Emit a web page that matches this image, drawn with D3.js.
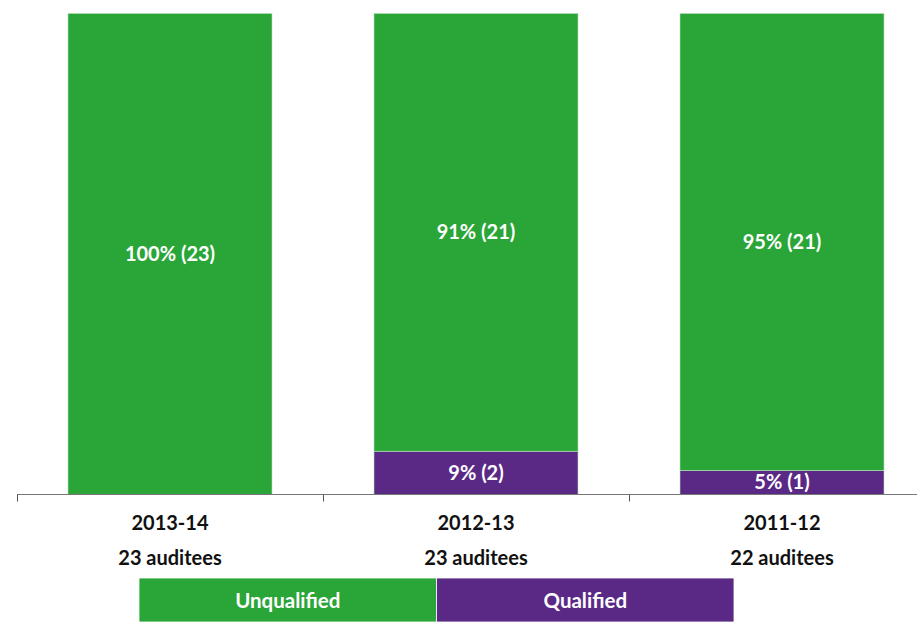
<!DOCTYPE html>
<html>
<head>
<meta charset="utf-8">
<script src="https://cdn.jsdelivr.net/npm/d3@7"></script>
<style>
  html, body { margin: 0; padding: 0; background: #fff; }
  #svg-container { width: 917px; height: 622px; }
  text { font-family: Lato, "Open Sans", sans-serif; font-weight: bold; }
</style>
</head>
<body>
<div id="svg-container"></div>
<script>
////////////////////////////////////////////////////////////////////
////////////////////////////  Data  ////////////////////////////////
const years = ["2013-14", "2012-13", "2011-12"];
const auditees = ["23 auditees", "23 auditees", "22 auditees"];
const unqualifiedPct = [100, 91, 95];
const unqualifiedCount = [23, 21, 21];
const qualifiedPct = [0, 9, 5];
const qualifiedCount = [0, 2, 1];
const seriesNames = ["Unqualified", "Qualified"];

////////////////////////////////////////////////////////////////////
////////////////////////////  Init  ////////////////////////////////
const width = 917;
const height = 622;
const margin = { top: 13.5, bottom: 127.5, left: 17 };

const svg = d3.select("#svg-container").append("svg")
  .attr("width", width)
  .attr("height", height);

const colorScale = d3.scaleOrdinal().domain(seriesNames).range(["#2aa538", "#5a2986"]);

const xScale = d3.scaleBand()
  .domain(years)
  .range([margin.left, margin.left + 918])
  .paddingInner(1 / 3)
  .paddingOuter(1 / 6);

const yScale = d3.scaleLinear()
  .domain([0, 100])
  .range([height - margin.bottom, margin.top]);

const rows = years.map((y, i) => ({
  year: y,
  aud: auditees[i],
  segs: [
    { key: "Unqualified", pct: unqualifiedPct[i], n: unqualifiedCount[i] },
    { key: "Qualified", pct: qualifiedPct[i], n: qualifiedCount[i] }
  ]
}));

const stack = d3.stack().keys(["Qualified", "Unqualified"])
  .value((d, k) => d.segs.find((s) => s.key === k).pct);
const stacked = stack(rows);

// bars
const layers = svg.selectAll(".layer")
  .data(stacked)
  .enter()
  .append("g")
  .attr("class", "layer")
  .attr("fill", (d) => colorScale(d.key));

layers.selectAll("rect")
  .data((d) => d.map((v) => ({ key: d.key, v })))
  .enter()
  .filter((d) => d.v[1] - d.v[0] > 0)
  .append("rect")
  .attr("x", (d) => xScale(d.v.data.year))
  .attr("width", xScale.bandwidth())
  .attr("y", (d) => yScale(d.v[1]))
  .attr("height", (d) => yScale(d.v[0]) - yScale(d.v[1]))
  .attr("stroke", "#b9e0bd")
  .attr("stroke-width", 0.6);

// labels inside bars
layers.selectAll("text")
  .data((d) => d.map((v) => ({ key: d.key, v })))
  .enter()
  .filter((d) => d.v[1] - d.v[0] > 0)
  .append("text")
  .attr("x", (d) => xScale(d.v.data.year) + xScale.bandwidth() / 2)
  .attr("y", (d) => (yScale(d.v[0]) + yScale(d.v[1])) / 2)
  .attr("dy", "0.35em")
  .attr("text-anchor", "middle")
  .attr("fill", "#fff")
  .attr("font-size", 20)
  .text((d) => {
    const s = d.v.data.segs.find((x) => x.key === d.key);
    return `${s.pct}% (${s.n})`;
  });

// axis
const xAxis = d3.axisBottom(xScale).tickSize(0).tickFormat("");
const axisG = svg.append("g")
  .attr("class", "x-axis")
  .attr("transform", `translate(0,${yScale(0)})`)
  .call(xAxis);
axisG.select(".domain").remove();

axisG.append("line")
  .attr("x1", margin.left).attr("x2", width)
  .attr("stroke", "#777").attr("stroke-width", 1);

// ticks at band boundaries
const boundaries = years.map((y) => xScale(y) - (xScale.step() * xScale.paddingInner()) / 2);
axisG.selectAll(".bound")
  .data(boundaries)
  .enter()
  .append("line")
  .attr("x1", (d) => Math.round(d) + 0.5)
  .attr("x2", (d) => Math.round(d) + 0.5)
  .attr("y1", 0)
  .attr("y2", 7)
  .attr("stroke", "#555");

// category labels
const catG = svg.selectAll(".cat")
  .data(rows)
  .enter()
  .append("g")
  .attr("transform", (d) => `translate(${xScale(d.year) + xScale.bandwidth() / 2},0)`);

catG.append("text")
  .attr("y", 523)
  .attr("dy", "0.35em")
  .attr("text-anchor", "middle")
  .attr("font-size", 20)
  .attr("fill", "#111")
  .text((d) => d.year);

catG.append("text")
  .attr("y", 558)
  .attr("dy", "0.35em")
  .attr("text-anchor", "middle")
  .attr("font-size", 20)
  .attr("fill", "#111")
  .text((d) => d.aud);

// legend
const legendX = d3.scaleBand().domain(seriesNames).range([139, 734]);
const legend = svg.selectAll(".legend")
  .data(seriesNames)
  .enter()
  .append("g")
  .attr("transform", (d) => `translate(${legendX(d)},578)`);

legend.append("rect")
  .attr("width", legendX.bandwidth())
  .attr("height", 44)
  .attr("fill", (d) => colorScale(d))
  .attr("stroke", "#fff")
  .attr("stroke-width", 0.8);

legend.append("text")
  .attr("x", legendX.bandwidth() / 2)
  .attr("y", 23)
  .attr("dy", "0.35em")
  .attr("text-anchor", "middle")
  .attr("fill", "#fff")
  .attr("font-size", 20.5)
  .text((d) => d);
</script>
</body>
</html>
